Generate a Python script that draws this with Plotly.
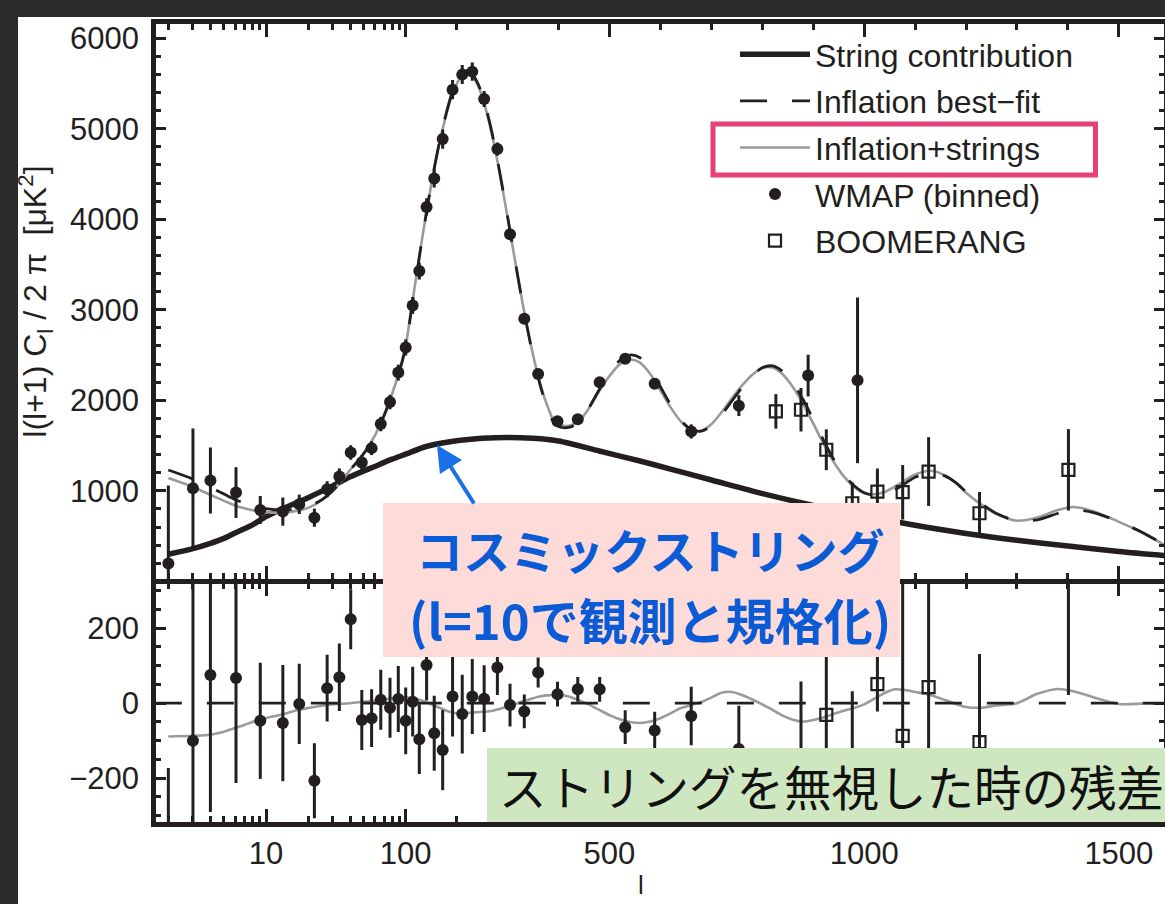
import numpy as np
import plotly.graph_objects as go

# ------------------------------------------------------------------ data
# multipole grid for the model curves
L_CURVE = [2, 3, 4, 5, 6, 7, 8, 10, 13, 17, 20, 25, 30, 40, 50, 60, 70, 80, 90, 100,
           110, 120, 130, 140, 150, 160, 170, 180, 190, 200, 210, 220, 230, 240, 250, 260, 270, 280, 290, 300,
           310, 320, 330, 340, 350, 360, 370, 380, 390, 400, 420, 440, 460, 480, 500, 520, 540, 560, 580, 600,
           620, 640, 660, 680, 700, 720, 740, 760, 780, 800, 820, 840, 860, 880, 900, 920, 940, 960, 980, 1000,
           1020, 1040, 1060, 1080, 1100, 1130, 1160, 1180, 1200, 1230, 1260, 1300, 1340, 1380, 1410, 1450, 1500, 1550, 1590]

INFL_BESTFIT = [1230, 1130, 1040, 965, 905, 865, 835, 805, 790, 800, 825, 900, 1000, 1230, 1410, 1600, 1830, 2060, 2310, 2590,
                2950, 3330, 3700, 4050, 4380, 4680, 4950, 5180, 5380, 5520, 5610, 5640, 5610, 5520, 5380, 5180, 4940, 4660, 4350, 4030,
                3700, 3370, 3050, 2760, 2490, 2250, 2050, 1890, 1760, 1710, 1700, 1760, 1920, 2120, 2300, 2440, 2500, 2470, 2340, 2150,
                1950, 1780, 1680, 1660, 1720, 1840, 1990, 2140, 2270, 2360, 2380, 2320, 2190, 2010, 1790, 1560, 1350, 1180, 1060, 980,
                950, 960, 1010, 1080, 1150, 1200, 1160, 1090, 990, 860, 750, 670, 680, 750, 790, 760, 660, 530, 400]

INFL_STRINGS = [1141, 1043, 956, 889, 839, 807, 785, 765, 760, 782, 812, 893, 997, 1230, 1414, 1607, 1840, 2073, 2325, 2606,
                2964, 3341, 3708, 4053, 4377, 4671, 4936, 5160, 5356, 5493, 5583, 5614, 5585, 5496, 5357, 5158, 4920, 4643, 4337, 4021,
                3695, 3370, 3055, 2769, 2503, 2267, 2070, 1911, 1782, 1732, 1718, 1768, 1916, 2102, 2268, 2397, 2450, 2417, 2291, 2110,
                1923, 1767, 1675, 1663, 1735, 1868, 2020, 2162, 2280, 2357, 2362, 2287, 2146, 1961, 1745, 1522, 1321, 1160, 1047, 977,
                962, 987, 1047, 1115, 1180, 1222, 1168, 1088, 980, 848, 744, 670, 705, 788, 822, 776, 658, 529, 400]

# residual of (inflation+strings) relative to inflation best-fit, bottom panel
RESID_STRINGS = [-89, -87, -84, -76, -66, -58, -50, -40, -30, -18, -13, -7, -3, 0, 4, 7, 10, 13, 15, 16,
                 14, 11, 8, 3, -3, -9, -14, -20, -24, -27, -27, -26, -25, -24, -23, -22, -20, -17, -13, -9,
                 -5, 0, 5, 9, 13, 17, 20, 21, 22, 22, 18, 8, -4, -18, -32, -43, -50, -53, -49, -40,
                 -27, -13, -5, 3, 15, 28, 30, 22, 10, -3, -18, -33, -44, -49, -45, -38, -29, -20, -13, -3,
                 12, 27, 37, 35, 30, 22, 8, -2, -10, -12, -6, 0, 25, 38, 32, 16, -2, -1, 0]

# best-fit residual is zero everywhere
L_ZERO = [1.6, 1590]
RESID_BESTFIT = [0, 0]

L_STRING = [2, 3, 4, 5, 6, 8, 10, 13, 20, 30, 40, 60, 80, 100, 140, 190, 250, 300, 350, 400,
            480, 560, 620, 700, 800, 900, 1000, 1100, 1200, 1300, 1400, 1500, 1590]
STRING_CONTRIB = [300, 362, 420, 475, 535, 625, 715, 800, 925, 1055, 1155, 1270, 1350, 1405, 1490, 1545, 1580, 1590, 1580, 1550,
                  1440, 1330, 1240, 1120, 970, 840, 730, 620, 530, 455, 390, 330, 285]

WMAP_L = [2, 3, 4, 6.1, 9.1, 13.2, 17.3, 22.2, 27.4, 33.5, 40.4, 48.5, 57, 66.3, 77.2, 88.5, 100, 113.7, 126.7, 141,
          156, 172.6, 192, 211, 230.7, 254, 280, 304.8, 332.8, 360, 398, 437.8, 480.8, 530.9, 588.8, 660.5, 754, 890, 987]
WMAP_CL = [199, 1029, 1114, 981, 789, 771, 852, 704, 1018, 1158, 1424, 1313, 1472, 1738, 1981, 2306, 2583, 3048, 3427, 4136,
           4450, 4885, 5431, 5597, 5630, 5328, 4775, 3834, 2900, 2290, 1770, 1790, 2200, 2458, 2184, 1656, 1941, 2273, 2221]
WMAP_ERR = [860, 660, 365, 280, 155, 155, 107, 100, 89, 90, 80, 80, 77, 80, 80, 88, 89, 93, 93, 95,
            100, 107, 107, 105, 100, 89, 73, 57, 45, 40, 33, 33, 33, 45, 50, 78, 115, 230, 915]
WMAP_RES = [-1033, -100, 75, 67, -47, -53, -2, -207, 40, 69, 224, -45, -40, 9, -12, 11, -47, 4, -96, 102,
            -80, -125, 18, -29, 18, 12, 95, -5, -22, 82, 24, 37, 37, -64, -73, -34, -122, 420, 1200]

BOOM_L = [826.7, 876, 925.7, 976.7, 1026, 1075.6, 1126.5, 1226.4, 1401]
BOOM_CL = [1878, 1896, 1454, 863, 992, 985, 1213, 753, 1232]
BOOM_ERR = [190, 240, 225, 230, 255, 300, 380, 235, 450]
BOOM_RES = [-480, -200, -31, -200, 51, -87, 43, -104, 450]
BOOM_RES_ERR = [190, 258, 155, 232, 73, 420, 380, 235, 428]

X_TICKS = [10, 100, 500, 1000, 1500]
X_TICK_TEXT = ["10", "100", "500", "1000", "1500"]
X_MINOR = [2, 3, 4, 5, 6, 7, 8, 9, 20, 30, 40, 50, 60, 70, 80, 90,
           200, 300, 400, 600, 700, 800, 900, 1100, 1200, 1300, 1400]
Y_TOP_TICKS = [1000, 2000, 3000, 4000, 5000, 6000]
Y_TOP_MINOR = [v for v in range(200, 6200, 200) if v % 1000]
Y_BOT_TICKS = [-200, 0, 200]
Y_BOT_TEXT = ["\u2212200", "0", "200"]
Y_BOT_MINOR = [-300, -250, -150, -100, -50, 50, 100, 150, 250, 300]

# ------------------------------------------------------------------ hybrid l-axis (log below 100, linear above)
PX_PER_DECADE = 139.7
PX_PER_L = 0.5094


def lax(l):
    l = np.asarray(l, dtype=float)
    return np.where(l <= 100, np.log10(np.clip(l, 1e-9, None)),
                    2.0 + (l - 100.0) * PX_PER_L / PX_PER_DECADE)


# ------------------------------------------------------------------ figure geometry
W, H = 1165, 904
ML, MR, MT, MB = 156, 1, 24, 82
PW, PH = W - ML - MR, H - MT - MB
U0 = 2.0 - (405.7 - ML) / PX_PER_DECADE
U1 = U0 + PW / PX_PER_DECADE


def px(xp):
    return (xp - ML) / PW


def py(yp):
    return (H - MB - yp) / PH


INK = "#231f20"
GRAY = "#9a9a9a"
FONT = "Liberation Sans, Arial, Helvetica, sans-serif"
JP = "Noto Sans CJK JP"

fig = go.Figure()

# top panel
fig.add_trace(go.Scatter(x=lax(L_STRING), y=STRING_CONTRIB, mode="lines", name="String contribution",
                         line=dict(color=INK, width=5.5, shape="spline", smoothing=0.8),
                         xaxis="x2", yaxis="y2", legendrank=1, legendgroup="g1"))
fig.add_trace(go.Scatter(x=lax(L_CURVE), y=INFL_STRINGS, mode="lines", name="Inflation+strings",
                         line=dict(color=GRAY, width=2.6, shape="spline", smoothing=0.8),
                         xaxis="x2", yaxis="y2", legendrank=3, legendgroup="g3"))
fig.add_trace(go.Scatter(x=lax(L_CURVE), y=INFL_BESTFIT, mode="lines", name="Inflation best\u2212fit",
                         line=dict(color=INK, width=2.8, dash="27px,25px", shape="spline", smoothing=0.8),
                         xaxis="x2", yaxis="y2", legendrank=2, legendgroup="g2"))
fig.add_trace(go.Scatter(x=lax(WMAP_L), y=WMAP_CL, mode="markers", name="WMAP (binned)",
                         marker=dict(color=INK, size=12, line=dict(width=0)),
                         error_y=dict(type="data", array=WMAP_ERR, color=INK, thickness=3, width=0),
                         xaxis="x2", yaxis="y2", legendrank=4, legendgroup="g4"))
fig.add_trace(go.Scatter(x=lax(BOOM_L), y=BOOM_CL, mode="markers", name="BOOMERANG",
                         marker=dict(symbol="square-open", color=INK, size=12, line=dict(width=2.2, color=INK)),
                         error_y=dict(type="data", array=BOOM_ERR, color=INK, thickness=3, width=0),
                         xaxis="x2", yaxis="y2", legendrank=5, legendgroup="g5"))

# bottom panel (residuals)
fig.add_trace(go.Scatter(x=lax(L_CURVE), y=RESID_STRINGS, mode="lines", showlegend=False,
                         line=dict(color=GRAY, width=2.6, shape="spline", smoothing=0.8),
                         xaxis="x", yaxis="y", legendgroup="g3"))
fig.add_trace(go.Scatter(x=lax(L_ZERO), y=RESID_BESTFIT, mode="lines", showlegend=False,
                         line=dict(color=INK, width=2.8, dash="27px,25px"),
                         xaxis="x", yaxis="y", legendgroup="g2"))
fig.add_trace(go.Scatter(x=lax(WMAP_L), y=WMAP_RES, mode="markers", showlegend=False,
                         marker=dict(color=INK, size=12, line=dict(width=0)),
                         error_y=dict(type="data", array=WMAP_ERR, color=INK, thickness=3, width=0),
                         xaxis="x", yaxis="y", legendgroup="g4"))
fig.add_trace(go.Scatter(x=lax(BOOM_L), y=BOOM_RES, mode="markers", showlegend=False,
                         marker=dict(symbol="square-open", color=INK, size=12, line=dict(width=2.2, color=INK)),
                         error_y=dict(type="data", array=BOOM_RES_ERR, color=INK, thickness=3, width=0),
                         xaxis="x", yaxis="y", legendgroup="g5"))

axis_style = dict(showline=True, linewidth=4.5, linecolor=INK, mirror="allticks",
                  ticks="inside", tickwidth=3, tickcolor=INK, showgrid=False, zeroline=False,
                  tickfont=dict(family=FONT, size=31, color=INK))

x_common = dict(axis_style, range=[U0, U1], tickmode="array",
                tickvals=lax(X_TICKS).tolist(), ticktext=X_TICK_TEXT, ticklen=13, ticklabelstandoff=0,
                minor=dict(tickmode="array", tickvals=lax(X_MINOR).tolist(), ticklen=6,
                           tickwidth=3, tickcolor=INK, ticks="inside", showgrid=False))

BOT_DOMAIN = [0.0, (H - MB - 583.65) / PH]
TOP_DOMAIN = [(H - MB - 579.15) / PH, 1.0]

fig.update_layout(
    width=W, height=H,
    margin=dict(l=ML, r=MR, t=MT, b=MB, pad=0, autoexpand=False),
    paper_bgcolor="white", plot_bgcolor="white",
    font=dict(family=FONT, color=INK, size=26),
    xaxis=dict(x_common, anchor="y", domain=[0, 1]),
    xaxis2=dict(x_common, anchor="y2", domain=[0, 1], matches="x", showticklabels=False),
    yaxis=dict(axis_style, domain=BOT_DOMAIN, range=[-317, 319], tickmode="array",
               tickvals=Y_BOT_TICKS, ticktext=Y_BOT_TEXT, ticklen=10, ticklabelstandoff=6,
               minor=dict(tickmode="array", tickvals=Y_BOT_MINOR, ticklen=5, tickwidth=3,
                          tickcolor=INK, ticks="inside", showgrid=False)),
    yaxis2=dict(axis_style, domain=TOP_DOMAIN, range=[25, 6156], tickmode="array",
                tickvals=Y_TOP_TICKS, ticklen=10, ticklabelstandoff=6,
                minor=dict(tickmode="array", tickvals=Y_TOP_MINOR, ticklen=5, tickwidth=3,
                           tickcolor=INK, ticks="inside", showgrid=False),
                title=dict(text="l(l+1) C<sub>l</sub> / 2 \u03c0  [\u03bcK<sup>2</sup>]",
                           font=dict(family=FONT, size=32, color=INK), standoff=15)),
    showlegend=True,
    legend=dict(x=px(735), y=py(27), xanchor="left", yanchor="top",
                bgcolor="rgba(0,0,0,0)", borderwidth=0, itemwidth=70,
                traceorder="grouped", tracegroupgap=2,
                font=dict(family=FONT, size=32, color=INK)),
)

shapes = [
    # dark slide frame (left and top strips)
    dict(type="rect", xref="paper", yref="paper", x0=px(-2), x1=px(18), y0=py(H + 2), y1=py(-2),
         fillcolor="#2b2b2b", line=dict(width=0), layer="above"),
    dict(type="rect", xref="paper", yref="paper", x0=px(-2), x1=px(W + 2), y0=py(17), y1=py(-2),
         fillcolor="#2b2b2b", line=dict(width=0), layer="above"),
    # highlight frame around legend entry
    dict(type="rect", xref="paper", yref="paper", x0=px(713), x1=px(1095.5), y0=py(175), y1=py(124),
         fillcolor="rgba(0,0,0,0)", line=dict(color="#e5407a", width=5), layer="above"),
    # pink callout
    dict(type="rect", xref="paper", yref="paper", x0=px(383), x1=px(900), y0=py(657), y1=py(503),
         fillcolor="#fcdbd9", line=dict(width=0), layer="above"),
    # green callout
    dict(type="rect", xref="paper", yref="paper", x0=px(487), x1=px(W + 5), y0=py(822), y1=py(748),
         fillcolor="#cfe7c0", line=dict(width=0), layer="above"),
]
fig.update_layout(shapes=shapes)

annotations = [
    dict(text="\u30b3\u30b9\u30df\u30c3\u30af\u30b9\u30c8\u30ea\u30f3\u30b0", xref="paper", yref="paper",
         x=px(650), y=py(548), xanchor="center", yanchor="middle", showarrow=False,
         font=dict(family=JP, size=47, color="#0b5bd6", weight="bold")),
    dict(text="(l=10\u3067\u89b3\u6e2c\u3068\u898f\u683c\u5316)", xref="paper", yref="paper",
         x=px(650), y=py(618), xanchor="center", yanchor="middle", showarrow=False,
         font=dict(family=JP, size=49, color="#0b5bd6", weight="bold")),
    dict(text="\u30b9\u30c8\u30ea\u30f3\u30b0\u3092\u7121\u8996\u3057\u305f\u6642\u306e\u6b8b\u5dee",
         xref="paper", yref="paper", x=px(831), y=py(785), xanchor="center", yanchor="middle",
         showarrow=False, font=dict(family=JP, size=47.5, color="#111111")),
    dict(text="", xref="paper", yref="paper", x=px(437), y=py(445), showarrow=True,
         ax=38, ay=60, arrowhead=2, arrowsize=1.3, arrowwidth=4, arrowcolor="#1a6fe8"),
    dict(text="l", xref="paper", yref="paper", x=px(641), y=py(885), xanchor="center", yanchor="middle",
         showarrow=False, font=dict(family=FONT, size=26, color=INK)),
]
fig.update_layout(annotations=annotations)

fig.write_html("out.html", config={"displayModeBar": False},
               post_script="document.body.style.margin='0px';document.body.style.overflow='hidden';")
